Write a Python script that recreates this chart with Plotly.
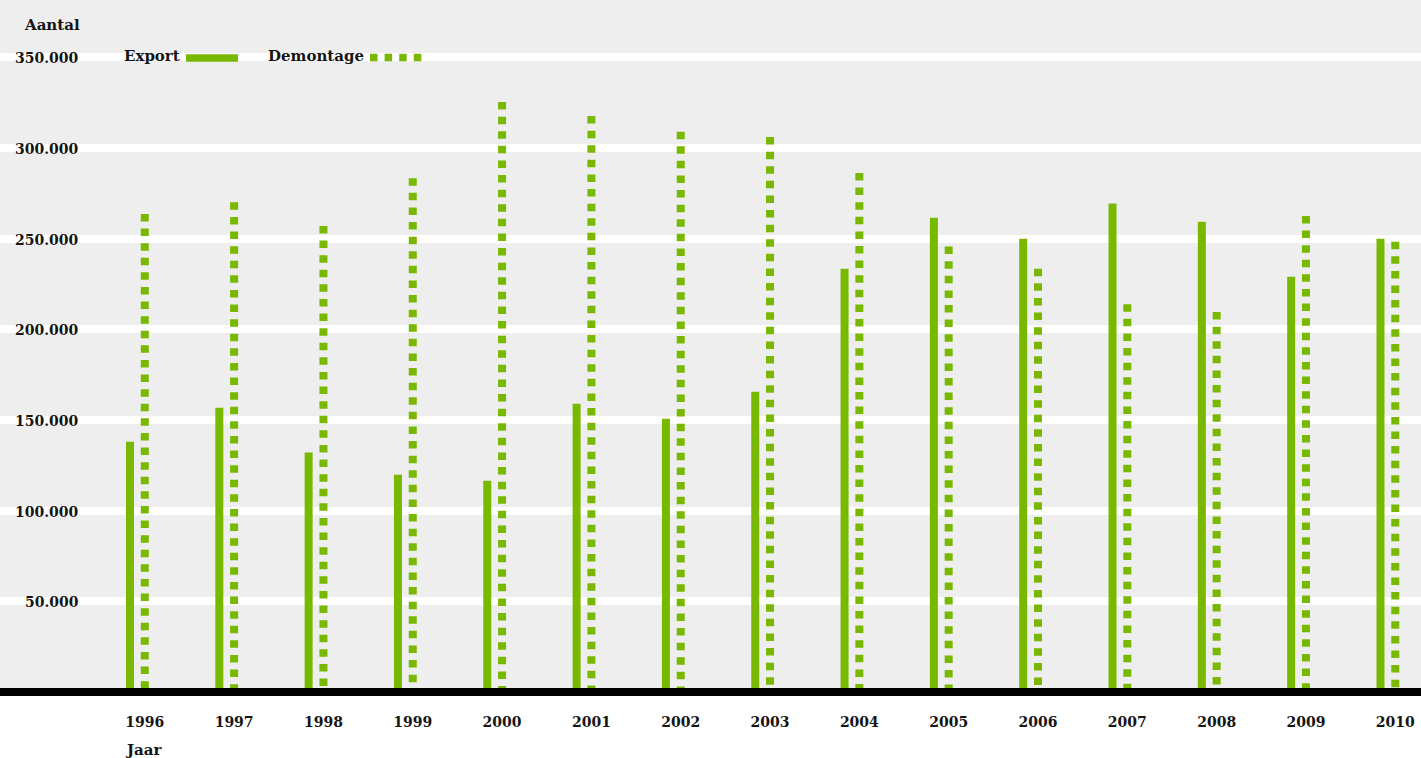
import plotly.graph_objects as go

years = list(range(1996, 2011))
export = [138.0, 156.8, 132.0, 119.8, 116.5, 159.0, 150.7, 165.6, 233.4, 261.5, 250.0, 269.3, 259.3, 229.0, 250.0]
demontage = [263.6, 270.0, 257.0, 283.3, 325.3, 317.6, 309.0, 306.0, 286.2, 245.6, 233.4, 213.8, 209.5, 262.5, 248.3]
export = [v * 1000 for v in export]
demontage = [v * 1000 for v in demontage]

y_ticks = [50000, 100000, 150000, 200000, 250000, 300000, 350000]
y_tick_labels = ["50.000", "100.000", "150.000", "200.000", "250.000", "300.000", "350.000"]
x_tick_labels = [str(y) for y in years]

GREEN = "#78b800"
GREY = "#eeeeee"
TEXT = "#151515"
FONT = "DejaVu Serif"

W, H = 1421, 758
PLOT_H = 696
px_per_year = 89.32
bar_w = 8 / px_per_year
export_center_shift = -14.8 / px_per_year

fig = go.Figure()

fig.add_trace(go.Bar(
    x=years, y=export,
    width=bar_w,
    offset=export_center_shift - bar_w / 2,
    marker=dict(color=GREEN, line=dict(width=0)),
    name="Export",
    showlegend=False,
))

# Demontage: dotted vertical bars drawn as dashed line segments from value to 0
dx, dy = [], []
for yr, v in zip(years, demontage):
    dx += [yr, yr, None]
    dy += [v, 0, None]
fig.add_trace(go.Scatter(
    x=dx, y=dy, mode="lines",
    line=dict(color=GREEN, width=8, dash="7.5px,7.1px"),
    name="Demontage",
    showlegend=False,
    connectgaps=False,
))

x0 = 1996 - 144.8 / px_per_year
x1 = x0 + W / px_per_year
y_per_px = 1000 / 1.8135
y_min = -4 * y_per_px
y_max = 692 * y_per_px

annotations = []
for v, lab in zip(y_ticks, y_tick_labels):
    annotations.append(dict(
        x=81 / W, xref="paper", xanchor="right",
        y=v, yref="y", yanchor="middle", yshift=-1,
        text=lab, showarrow=False,
        font=dict(family=FONT, size=14, color=TEXT, weight="bold"),
    ))

def py(ypx):
    return (PLOT_H - ypx) / PLOT_H

annotations += [
    dict(x=82 / W, xref="paper", xanchor="right", y=py(24.5), yref="paper", yanchor="middle",
         text="Aantal", showarrow=False, font=dict(family=FONT, size=15, color=TEXT, weight="bold")),
    dict(x=123 / W, xref="paper", xanchor="left", y=py(750), yref="paper", yanchor="middle",
         text="Jaar", showarrow=False, font=dict(family=FONT, size=15, color=TEXT, weight="bold")),
    dict(x=182 / W, xref="paper", xanchor="right", y=py(56), yref="paper", yanchor="middle",
         text="Export", showarrow=False, font=dict(family=FONT, size=15, color=TEXT, weight="bold")),
    dict(x=366 / W, xref="paper", xanchor="right", y=py(56), yref="paper", yanchor="middle",
         text="Demontage", showarrow=False, font=dict(family=FONT, size=15, color=TEXT, weight="bold")),
]

shapes = [
    # baseline
    dict(type="line", xref="paper", yref="y", x0=0, x1=1, y0=0, y1=0,
         line=dict(color="black", width=8), layer="above"),
    # legend samples
    dict(type="line", xref="paper", yref="paper", x0=186 / W, x1=238 / W, y0=py(58), y1=py(58),
         line=dict(color=GREEN, width=7.7)),
    dict(type="line", xref="paper", yref="paper", x0=370 / W, x1=422 / W, y0=py(57.5), y1=py(57.5),
         line=dict(color=GREEN, width=7.7, dash="7.5px,7.1px")),
]

fig.update_layout(
    width=W, height=H,
    margin=dict(l=0, r=0, t=0, b=H - PLOT_H, pad=0),
    paper_bgcolor="white",
    plot_bgcolor=GREY,
    barmode="overlay",
    showlegend=False,
    annotations=annotations,
    shapes=shapes,
    xaxis=dict(
        range=[x0, x1], tickvals=years, ticktext=x_tick_labels,
        showgrid=False, zeroline=False, showline=False, ticks="",
        ticklabelstandoff=16,
        tickfont=dict(family=FONT, size=14, color=TEXT, weight="bold"),
        fixedrange=True,
    ),
    yaxis=dict(
        range=[y_min, y_max], tickvals=[0] + y_ticks,
        showticklabels=False, showgrid=True, gridcolor="white", gridwidth=8,
        zeroline=False, showline=False, ticks="",
        fixedrange=True,
    ),
)

fig.write_html("out.html")
